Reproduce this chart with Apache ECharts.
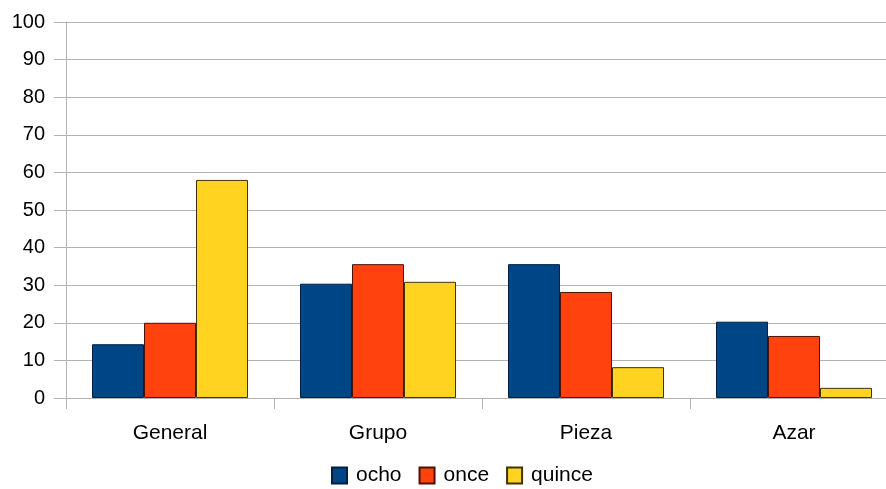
<!DOCTYPE html>
<html>
<head>
<meta charset="utf-8">
<script src="https://cdn.jsdelivr.net/npm/echarts@6/dist/echarts.min.js"></script>
<style>
  html, body { margin: 0; padding: 0; background: #fff; overflow: hidden; }
  #wrap { width: 886px; height: 489px; overflow: hidden; }
  #chart { width: 898px; height: 489px; }
</style>
</head>
<body>
<div id="wrap"><div id="chart"></div></div>
<script>
// Categories and series values
const categories = ['General', 'Grupo', 'Pieza', 'Azar'];
const ocho   = [14.3, 30.4, 35.6, 20.3];
const once   = [20.0, 35.6, 28.2, 16.5];
const quince = [58.0, 30.9, 8.2, 2.7];
const seriesNames = ['ocho', 'once', 'quince'];
const colors = ['#004586', '#ff420e', '#ffd320'];
const borderColors = ['#00203f', '#4a1204', '#3d3208'];

const FONT = 'Liberation Sans, Arial, sans-serif';
const chart = echarts.init(document.getElementById('chart'), null, { renderer: 'canvas' });

const values = [ocho, once, quince];

chart.setOption({
  animation: false,
  backgroundColor: '#ffffff',
  textStyle: { fontFamily: FONT, color: '#000' },
  grid: { left: 66, top: 22, right: 0, height: 376, containLabel: false },
  legend: {
    top: 460,
    left: 326,
    itemWidth: 15,
    itemHeight: 16,
    itemGap: 17,
    icon: 'rect',
    textStyle: { fontSize: 21, color: '#000', fontFamily: FONT, padding: [0, 0, 0, 4] },
    data: seriesNames
  },
  xAxis: {
    type: 'category',
    data: categories,
    axisLine: { show: true, lineStyle: { color: '#b3b3b3', width: 1 } },
    axisTick: { show: true, length: 11, alignWithLabel: false, lineStyle: { color: '#b3b3b3', width: 1 } },
    axisLabel: { fontSize: 21, color: '#000', margin: 25, fontFamily: FONT },
    splitLine: { show: false }
  },
  yAxis: {
    type: 'value',
    min: 0,
    max: 100,
    interval: 10,
    axisLine: { show: true, lineStyle: { color: '#b3b3b3', width: 1 } },
    axisTick: { show: true, length: 12, lineStyle: { color: '#b3b3b3', width: 1 } },
    axisLabel: { fontSize: 20, color: '#000', margin: 21, fontFamily: FONT },
    splitLine: { show: true, lineStyle: { color: '#b3b3b3', width: 1 } }
  },
  series: seriesNames.map((name, i) => ({
    name: name,
    type: 'bar',
    data: values[i],
    barGap: '0%',
    barCategoryGap: '25%',
    itemStyle: {
      color: colors[i],
      borderColor: borderColors[i],
      borderWidth: 1
    }
  }))
});
</script>
</body>
</html>
